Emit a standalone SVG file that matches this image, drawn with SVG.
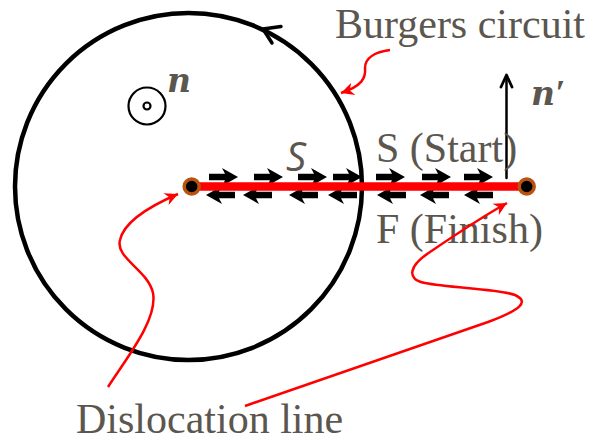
<svg xmlns="http://www.w3.org/2000/svg" width="595" height="442" viewBox="0 0 595 442">
<style>
.lbl{font-family:"Liberation Serif","Times New Roman",serif;font-size:42px;fill:#5b564e}
.vec{font-family:"DejaVu Serif","Liberation Serif",serif;font-size:33px;font-weight:bold;font-style:italic;fill:#5b564e}
.red{fill:none;stroke:#ff0000;stroke-width:2.5;marker-end:url(#rh)}
.blk{fill:none;stroke:#000;stroke-linecap:round;stroke-linejoin:round}
</style>
<defs>
<marker id="rh" viewBox="-14 -7 15 14" refX="0" refY="0" markerWidth="15" markerHeight="14" markerUnits="userSpaceOnUse" orient="auto">
<path d="M0,0 L-13,-6.5 L-9,0 L-13,6.5 Z" fill="#ff0000"/>
</marker>
<path id="ar" d="M-29,-3.2 L-13,-3.2 L-16,-9 L0,0 L-16,9 L-13,3.2 L-29,3.2 Z" fill="#000"/>
</defs>

<g id="circuit">
<circle cx="188.5" cy="186.5" r="173.5" fill="none" stroke="#000" stroke-width="4.5"/>
<path class="blk" d="M281,26.5 L263,29 L272,43" stroke-width="3.5"/>
</g>

<g id="normal-n">
<circle cx="147" cy="106" r="18.5" fill="none" stroke="#000" stroke-width="2.2"/>
<circle cx="147" cy="106" r="3.5" fill="none" stroke="#000" stroke-width="2.2"/>
<text class="vec" x="167" y="92">n</text>
</g>

<g id="normal-n-prime">
<path class="blk" d="M506.5,178 L506.5,77" stroke-width="2.5"/>
<path class="blk" d="M501,87 L506.5,75 L512,87" stroke-width="2.8"/>
<text class="vec" x="531" y="105">n<tspan font-family="'Liberation Serif',serif" font-size="36">′</tspan></text>
</g>

<g id="cut">
<g id="arrows-top">
<use href="#ar" x="238" y="177"/>
<use href="#ar" x="283" y="177"/>
<use href="#ar" x="327" y="177"/>
<use href="#ar" x="362" y="177"/>
<use href="#ar" x="405" y="177"/>
<use href="#ar" x="451" y="177"/>
<use href="#ar" x="493" y="177"/>
</g>
<g id="arrows-bottom">
<use href="#ar" transform="translate(206,195) scale(-1,1)"/>
<use href="#ar" transform="translate(243,195) scale(-1,1)"/>
<use href="#ar" transform="translate(289,195) scale(-1,1)"/>
<use href="#ar" transform="translate(328,195) scale(-1,1)"/>
<use href="#ar" transform="translate(377,195) scale(-1,1)"/>
<use href="#ar" transform="translate(420,195) scale(-1,1)"/>
<use href="#ar" transform="translate(464,195) scale(-1,1)"/>
</g>
<line x1="192" y1="186.5" x2="527" y2="186.5" stroke="#ff0000" stroke-width="8.5"/>
<text x="286" y="171" font-family="'Open Sans','DejaVu Sans',sans-serif" font-style="italic" font-size="40" fill="#5b564e">S</text>
</g>

<g id="node-left">
<circle cx="191.7" cy="186.5" r="7.5" fill="#000" stroke="#b85410" stroke-width="3.5"/>
</g>
<g id="node-right">
<circle cx="526.7" cy="186.5" r="7.5" fill="#000" stroke="#b85410" stroke-width="3.5"/>
</g>

<g id="labels">
<text class="lbl" x="335" y="38">Burgers circuit</text>
<text class="lbl" x="376" y="162">S (Start)</text>
<text class="lbl" x="376" y="243">F (Finish)</text>
<text class="lbl" x="76" y="433">Dislocation line</text>
</g>

<g id="connectors">
<path class="red" d="M390,50 C375,52 365,58 365,68 C366,78 362,86 341,93"/>
<path class="red" d="M108,387 C125,360 158,320 153,293 C148,270 115,258 120,240 C124,222 150,206 178,194"/>
<path class="red" d="M245,406 L488,322 C520,310 530,302 515,295 C500,289 450,288 425,283 C405,279 410,265 430,252 C455,235 480,218 507,203"/>
</g>
</svg>
